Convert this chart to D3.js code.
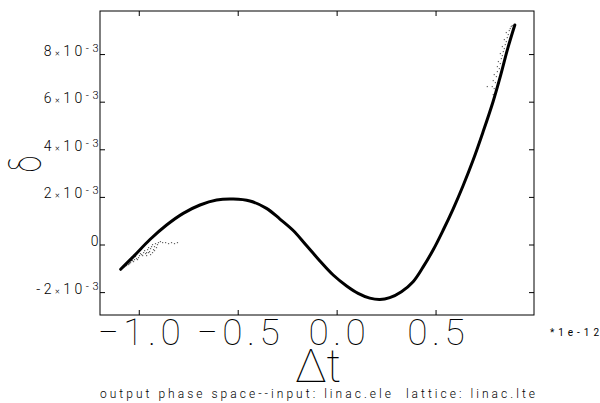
<!DOCTYPE html>
<html>
<head>
<meta charset="utf-8">
<script src="https://cdn.jsdelivr.net/npm/d3@7"></script>
<style>
  body { margin: 0; background: #fff; }
  svg { display: block; }
  text { font-family: Roboto, "DejaVu Sans", sans-serif; fill: #000; }
</style>
</head>
<body>
<svg id="chart"></svg>
<script>
// centre line of the particle band (dt in ps, delta in 1e-3)
const curveT = [-1.094, -1.030, -0.946, -0.862, -0.778, -0.693, -0.609, -0.525, -0.441, -0.357,
  -0.289, -0.222, -0.155, -0.087, -0.020, 0.048, 0.106, 0.165, 0.216, 0.266, 0.325, 0.384,
  0.434, 0.485, 0.535, 0.586, 0.636, 0.687, 0.737, 0.788, 0.827, 0.862, 0.898];
const curveD = [-1.02, -0.49, 0.23, 0.84, 1.33, 1.68, 1.89, 1.93, 1.85, 1.54,
  1.09, 0.61, -0.02, -0.67, -1.26, -1.72, -2.03, -2.23, -2.29, -2.21, -1.96, -1.54,
  -0.93, -0.21, 0.61, 1.51, 2.48, 3.56, 4.74, 6.02, 7.15, 8.25, 9.24];

// stray particles (tail at low end)
const lowT = [-1.077, -1.067, -1.057, -1.062, -1.047, -1.042, -1.032, -1.027, -1.017, -1.022,
  -1.007, -1.002, -0.997, -0.986, -0.981, -0.976, -0.966, -0.961, -0.956, -0.951, -0.946,
  -0.941, -0.936, -0.931, -0.926, -0.921, -0.916, -0.911, -0.906, -0.896, -0.885, -0.870,
  -0.855, -0.840, -0.825, -0.810, -0.936, -0.966, -0.946, -1.052, -1.037, -0.991, -0.971,
  -1.012, -0.926, -0.956];
const lowD = [-0.882, -0.840, -0.798, -0.714, -0.714, -0.630, -0.672, -0.588, -0.546, -0.462,
  -0.504, -0.420, -0.336, -0.420, -0.294, -0.210, -0.294, -0.168, -0.084, -0.252, -0.126,
  -0.042, 0.042, -0.168, -0.042, 0.084, -0.084, 0.042, 0.126, 0.168, 0.126, 0.126,
  0.084, 0.126, 0.084, 0.126, -0.294, -0.420, -0.378, -0.756, -0.630, -0.378, -0.336,
  -0.588, -0.210, -0.294];

// stray particles (high end)
const highT = [0.791, 0.781, 0.797, 0.786, 0.802, 0.791, 0.807, 0.817, 0.807, 0.822, 0.812,
  0.827, 0.832, 0.822, 0.837, 0.842, 0.832, 0.847, 0.852, 0.842, 0.857, 0.862, 0.852,
  0.867, 0.872, 0.877, 0.882, 0.756, 0.802, 0.786];
const highD = [6.597, 6.681, 6.849, 6.933, 7.101, 7.185, 7.311, 7.437, 7.521, 7.647, 7.731,
  7.857, 7.983, 8.067, 8.151, 8.277, 8.361, 8.445, 8.571, 8.655, 8.739, 8.866, 8.950,
  9.034, 9.118, 9.202, 9.244, 6.681, 6.429, 6.345];

const xTicks = [-1.0, -0.5, 0.0, 0.5];
const xTickLabels = ['\u22121.0', '\u22120.5', '0.0', '0.5'];
const yTicks = [-2, 0, 2, 4, 6, 8];

const W = 600, H = 403;
const box = { left: 100, right: 534, top: 11, bottom: 315 };

const svg = d3.select('#chart').attr('width', W).attr('height', H);

const x = d3.scaleLinear().domain([-1.1985, 0.995]).range([box.left, box.right]);
const y = d3.scaleLinear().domain([-2.94, 9.83]).range([box.bottom, box.top]);

// frame
svg.append('rect')
  .attr('x', box.left).attr('y', box.top)
  .attr('width', box.right - box.left).attr('height', box.bottom - box.top)
  .attr('fill', 'none').attr('stroke', '#000').attr('stroke-width', 1);

// inward ticks on all four sides
const tickLen = 5;
const gt = svg.append('g').attr('stroke', '#000').attr('stroke-width', 1);
xTicks.forEach(t => {
  gt.append('line').attr('x1', x(t)).attr('x2', x(t)).attr('y1', box.bottom).attr('y2', box.bottom - tickLen);
  gt.append('line').attr('x1', x(t)).attr('x2', x(t)).attr('y1', box.top).attr('y2', box.top + tickLen);
});
yTicks.forEach(v => {
  gt.append('line').attr('x1', box.left).attr('x2', box.left + tickLen).attr('y1', y(v)).attr('y2', y(v));
  gt.append('line').attr('x1', box.right).attr('x2', box.right - tickLen).attr('y1', y(v)).attr('y2', y(v));
});

// y tick labels  N x 10^-3
yTicks.forEach(v => {
  const t = svg.append('text')
    .attr('x', 102).attr('y', y(v) + 1)
    .attr('text-anchor', 'end')
    .style('font-size', '14px').style('font-weight', 300)
    .style('letter-spacing', '3.5px');
  if (v === 0) {
    t.text('0');
    return;
  }
  t.append('tspan').text(v < 0 ? '-' + Math.abs(v) : String(v));
  t.append('tspan').style('font-size', '9px').text('\u00d7');
  t.append('tspan').text('10');
  t.append('tspan').attr('dy', -4).style('font-size', '11px').text('-3');
});

// x tick labels, big and widely spaced
xTicks.forEach((t, i) => {
  const lab = svg.append('text')
    .attr('y', 345)
    .style('font-size', '37px').style('font-weight', 100)
    .style('letter-spacing', '4.5px')
    .text(xTickLabels[i]);
  const w = lab.node().getBBox().width - 4.5;
  lab.attr('x', x(t) - w / 2);
});

svg.append('text')
  .attr('x', 550).attr('y', 336)
  .attr('textLength', 49).attr('lengthAdjust', 'spacing')
  .style('font-size', '10px')
  .text('*1e-12');

// axis titles
svg.append('text')
  .attr('x', 318).attr('y', 382)
  .attr('text-anchor', 'middle')
  .style('font-size', '46px').style('font-weight', 100)
  .text('\u0394t');

svg.append('text')
  .attr('transform', 'translate(41,164) rotate(-90) scale(0.72,1)')
  .attr('text-anchor', 'middle')
  .style('font-size', '42px').style('font-weight', 100)
  .text('\u03b4');

svg.append('text')
  .attr('x', 100).attr('y', 398)
  .attr('textLength', 435).attr('lengthAdjust', 'spacing')
  .style('font-size', '12px').style('font-weight', 300)
  .style('white-space', 'pre')
  .text('output phase space--input: linac.ele  lattice: linac.lte');

// particles
const dots = svg.append('g').attr('fill', '#666');
lowT.forEach((t, i) => {
  dots.append('rect').attr('x', x(t)).attr('y', y(lowD[i])).attr('width', 1.2).attr('height', 1.2);
});
highT.forEach((t, i) => {
  dots.append('rect').attr('x', x(t)).attr('y', y(highD[i])).attr('width', 1.2).attr('height', 1.2);
});

const line = d3.line()
  .x((d, i) => x(curveT[i]))
  .y(d => y(d))
  .curve(d3.curveCatmullRom.alpha(0.5));

svg.append('path')
  .datum(curveD)
  .attr('d', line)
  .attr('fill', 'none')
  .attr('stroke', '#000')
  .attr('stroke-width', 3)
  .attr('stroke-linecap', 'round');
</script>
</body>
</html>
